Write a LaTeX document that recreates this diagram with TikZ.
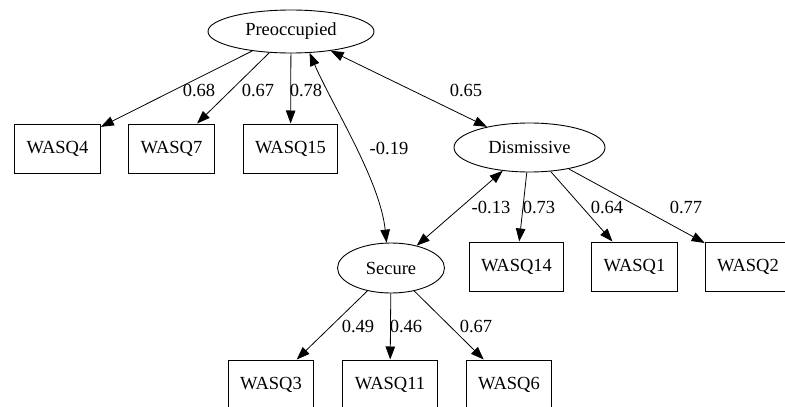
\documentclass[tikz,border=0pt]{standalone}
\usepackage{fontspec}
\setmainfont{Liberation Serif}
\newfontfamily\tmsfont{Liberation Serif}
\usetikzlibrary{arrows.meta,shapes.geometric}
\begin{document}
\begin{tikzpicture}[x=1pt,y=-1pt,
  font=\tmsfont\fontsize{18.5}{20}\selectfont,
  latent/.style={draw, ellipse, line width=0.9pt, inner sep=0pt},
  obs/.style={draw, rectangle, line width=1pt, minimum height=49pt, inner xsep=12pt},
  ld/.style={-{Triangle[length=13pt,width=9.5pt]}, line width=0.8pt},
  cv/.style={{Triangle[length=13pt,width=9.5pt]}-{Triangle[length=13pt,width=9.5pt]}, line width=0.8pt},
  lab/.style={inner sep=0pt}]
\useasboundingbox (0,0) rectangle (785,407);
% latent variables
\node[latent, minimum width=166pt, minimum height=43pt] (pre) at (291,31.5) {Preoccupied};
\node[latent, minimum width=151pt, minimum height=49pt] (dis) at (529.5,147.5) {Dismissive};
\node[latent, minimum width=107pt, minimum height=50pt] (sec) at (391,268) {Secure};
% indicators
\node[obs] (w4) at (57.5,148.5) {WASQ4};
\node[obs] (w7) at (171.5,148.5) {WASQ7};
\node[obs] (w15) at (290.5,148.5) {WASQ15};
\node[obs] (w14) at (516.5,266.5) {WASQ14};
\node[obs] (w1) at (634.5,266.5) {WASQ1};
\node[obs] (w2) at (748,266.5) {WASQ2};
\node[obs] (w3) at (271,384.5) {WASQ3};
\node[obs] (w11) at (390,384.5) {WASQ11};
\node[obs] (w6) at (509,384.5) {WASQ6};
% loadings
\draw[ld] (pre) -- (w4);
\draw[ld] (pre) -- (w7);
\draw[ld] (pre) -- (w15);
\draw[ld] (dis) -- (w14);
\draw[ld] (dis) -- (w1);
\draw[ld] (dis) -- (w2);
\draw[ld] (sec) -- (w3);
\draw[ld] (sec) -- (w11);
\draw[ld] (sec) -- (w6);
% covariances
\draw[cv] (pre) -- (dis);
\draw[cv] (dis) -- (sec);
\draw[cv] (pre.-49) .. controls (332,105) and (380,180) .. (sec.100);
% labels
\node[lab] (l1) at (199,90) {0.68};
\node[lab] (l2) at (258,90) {0.67};
\node[lab] (l3) at (306,90) {0.78};
\node[lab] (l4) at (466,90) {0.65};
\node[lab] (l5) at (389,148) {-0.19};
\node[lab] (l6) at (491,207) {-0.13};
\node[lab] (l7) at (539,207) {0.73};
\node[lab] (l8) at (607,207) {0.64};
\node[lab] (l9) at (686,207) {0.77};
\node[lab] (l10) at (358,326) {0.49};
\node[lab] (l11) at (406,326) {0.46};
\node[lab] (l12) at (476,326) {0.67};
\end{tikzpicture}
\end{document}
